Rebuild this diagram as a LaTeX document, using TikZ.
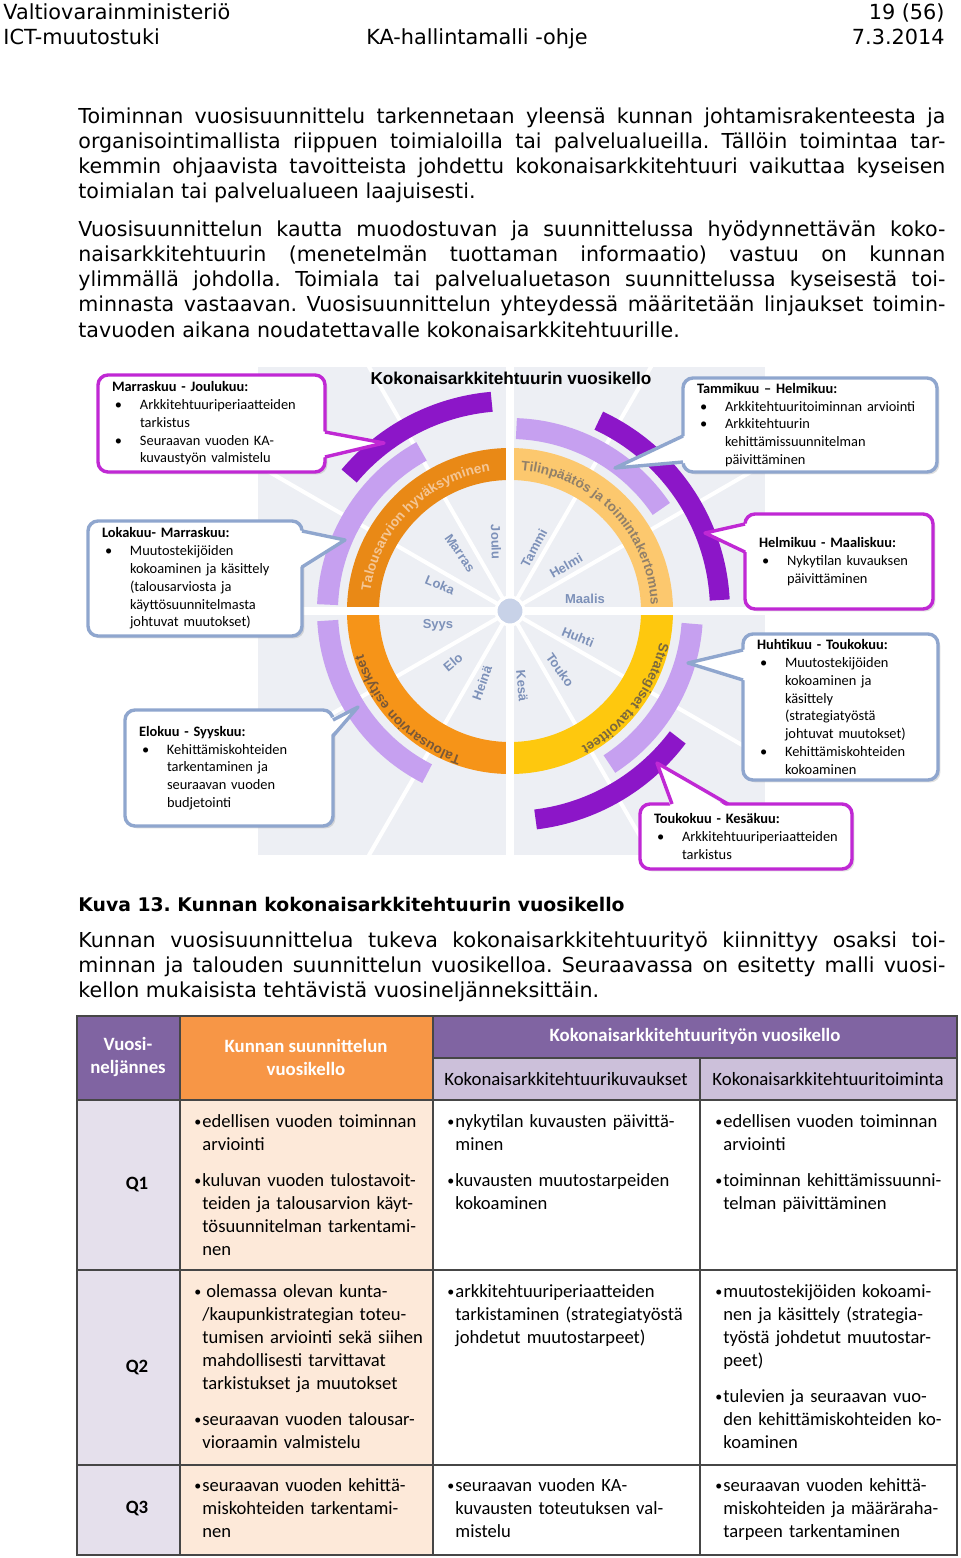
\documentclass[tikz,border=0pt]{standalone}
\usepackage{fontspec}
\setmainfont{DejaVu Sans}
\newfontfamily\calfont{Carlito}
\newfontfamily\arifont{Liberation Sans}
\usetikzlibrary{positioning,calc,decorations.text,shadows}
\tolerance=9999
\frenchspacing
\definecolor{VKmag}{RGB}{192,40,212}
\definecolor{VKblue}{RGB}{143,166,206}
\definecolor{VKlav}{RGB}{198,160,240}
\definecolor{VKpurp}{RGB}{140,22,200}
\definecolor{VKorTL}{RGB}{233,137,22}
\definecolor{VKorBL}{RGB}{246,148,24}
\definecolor{VKorBR}{RGB}{254,200,14}
\definecolor{VKorTR}{RGB}{252,200,110}
\definecolor{VKtxtTL}{RGB}{244,198,150}
\definecolor{VKtxtTR}{RGB}{145,128,105}
\definecolor{VKtxtBL}{RGB}{122,88,55}
\definecolor{VKtxtBR}{RGB}{122,104,62}
\definecolor{VKpanel}{RGB}{237,239,244}
\definecolor{VKmonth}{RGB}{125,145,185}
\definecolor{VKhub}{RGB}{200,210,232}
\definecolor{TBpurp}{RGB}{128,100,162}
\definecolor{TBorange}{RGB}{247,150,70}
\definecolor{TBlav}{RGB}{204,192,218}
\definecolor{TBq}{RGB}{229,224,236}
\definecolor{TBpeach}{RGB}{253,233,217}
\definecolor{TBline}{RGB}{70,70,70}
\newcommand{\ringfont}{\arifont\bfseries\fontsize{6.8}{8}\selectfont}
\newcommand{\cb}{\hspace*{1.5pt}\makebox[12.5pt][l]{\textbullet}}
\newcommand{\ci}{\hspace*{14pt}}
\newcommand{\tb}{\makebox[4pt][l]{\raisebox{0.2pt}{\fontsize{7}{7}\selectfont\textbullet}}}
\newcommand{\ti}{\hspace*{4pt}}
\tikzstyle{hdr}     = [inner sep=0pt, font=\fontsize{10.4}{12}\selectfont]
\tikzstyle{para}    = [anchor=base west, inner sep=0pt, text width=433.5pt,
                       align=justify, font=\fontsize{10.3}{12.65}\selectfont]
\tikzstyle{callbox} = [rectangle, rounded corners=5pt, line width=1.7pt, fill=white,
                       anchor=north west, outer sep=0pt, inner xsep=7pt, inner ysep=0pt,
                       align=left, font=\calfont\fontsize{7.2}{8.9}\selectfont,
                       drop shadow={opacity=0.25, shadow xshift=1.2pt, shadow yshift=-1.2pt}]
\tikzstyle{Cmag}    = [callbox, draw=VKmag]
\tikzstyle{Cblue}   = [callbox, draw=VKblue]
\tikzstyle{ptrline} = [line width=1.7pt, line join=round]
\tikzstyle{month}   = [inner sep=0pt, text=VKmonth, font=\arifont\bfseries\fontsize{6.5}{7}\selectfont]
\tikzstyle{tcell}   = [anchor=base west, inner sep=0pt, text width=124pt, align=left,
                       font=\calfont\fontsize{9.3}{11.5}\selectfont]
\tikzstyle{thead}   = [inner sep=0pt, align=center, text=white,
                       font=\calfont\bfseries\fontsize{9.4}{11.5}\selectfont]
\tikzstyle{tsub}    = [inner sep=0pt, font=\calfont\fontsize{9.4}{11.5}\selectfont]

\begin{document}
\begin{tikzpicture}[x=0.5pt, y=0.5pt]
  \useasboundingbox (0,0) rectangle (960,-1558);
  \fill[white] (0,0) rectangle (960,-1558);

  % page header
  \node[hdr, anchor=base west] (ministry) at (3,-19)   {Valtiovarainministeriö};
  \node[hdr, anchor=base west] (unit)     at (3,-44)   {ICT-muutostuki};
  \node[hdr, anchor=base west] (doc)      at (366,-44) {KA-hallintamalli -ohje};
  \node[hdr, anchor=base east] (page)     at (945,-19) {19 (56)};
  \node[hdr, anchor=base east] (date)     at (945,-44) {7.3.2014};

  % text before the figure
  \node[para] (p1) at (78,-123) {Toiminnan vuosisuunnittelu tarkennetaan yleensä kunnan johtamisrakenteesta ja\linebreak
    organisointimallista riippuen toimialoilla tai palvelualueilla. Tällöin toimintaa tar-\linebreak
    kemmin ohjaavista tavoitteista johdettu kokonaisarkkitehtuuri vaikuttaa kyseisen\linebreak
    toimialan tai palvelualueen laajuisesti.};
  \node[para] (p2) at (78,-236) {Vuosisuunnittelun kautta muodostuvan ja suunnittelussa hyödynnettävän koko-\linebreak
    naisarkkitehtuurin (menetelmän tuottaman informaatio) vastuu on kunnan\linebreak
    ylimmällä johdolla. Toimiala tai palvelualuetason suunnittelussa kyseisestä toi-\linebreak
    minnasta vastaavan. Vuosisuunnittelun yhteydessä määritetään linjaukset toimin-\linebreak
    tavuoden aikana noudatettavalle kokonaisarkkitehtuurille.};

  % clock panel and spokes
  \coordinate (c) at (510,-611);
  \fill[VKpanel] (258,-367) rectangle (765,-855);
  \begin{scope}
    \clip (258,-367) rectangle (765,-855);
    \foreach \a in {30,60,120,150,210,240,300,330}
      \draw[white, line width=2pt] (c) -- ++(\a:420);
    \foreach \s/\e/\col in {90/180/VKorTL, 180/270/VKorBL, 270/360/VKorBR, 0/90/VKorTR}
      \draw[\col, line width=16pt] ($(c)+(\s:147)$) arc[start angle=\s, end angle=\e, radius=147];
    \draw[white, line width=4pt] (258,-611) -- (765,-611);
    \draw[white, line width=4pt] (510,-367) -- (510,-855);
  \end{scope}

  % outer arcs
  \foreach \s/\e in {119/178, 183/243, 34/88, -57/-4}
    \draw[VKlav, line width=10.5pt] ($(c)+(\s:182.5)$) arc[start angle=\s, end angle=\e, radius=182.5];
  \foreach \s/\e in {95/140, 3/65, -83/-37}
    \draw[VKpurp, line width=10pt] ($(c)+(\s:210)$) arc[start angle=\s, end angle=\e, radius=210];

  % ring texts
  \path[decorate, decoration={text along path, text align=center,
      text={|\ringfont\color{VKtxtTL}|Talousarvion hyväksyminen}}]
    ($(c)+(176:141)$) arc[start angle=176, end angle=94, radius=141];
  \path[decorate, decoration={text along path, text align=center,
      text={|\ringfont\color{VKtxtTR}|Tilinpäätös ja toimintakertomus}}]
    ($(c)+(87:141)$) arc[start angle=87, end angle=1, radius=141];
  \path[decorate, decoration={text along path, text align=center,
      text={|\ringfont\color{VKtxtBL}|Talousarvion esitykset}}]
    ($(c)+(-92:153)$) arc[start angle=-92, end angle=-180, radius=153];
  \path[decorate, decoration={text along path, text align=center,
      text={|\ringfont\color{VKtxtBR}|Strategiset tavoitteet}}]
    ($(c)+(-1:153)$) arc[start angle=-1, end angle=-73, radius=153];

  % months
  \node[month, rotate=62]  (tammi)  at (534,-548) {Tammi};
  \node[month, rotate=30]  (helmi)  at (566,-566) {Helmi};
  \node[month]             (maalis) at (585,-599) {Maalis};
  \node[month, rotate=-22] (huhti)  at (578,-637) {Huhti};
  \node[month, rotate=-55] (touko)  at (560,-670) {Touko};
  \node[month, rotate=-85] (kesa)   at (522,-686) {Kesä};
  \node[month, rotate=70]  (heina)  at (482,-683) {Heinä};
  \node[month, rotate=40]  (elo)    at (453,-662) {Elo};
  \node[month]             (syys)   at (438,-625) {Syys};
  \node[month, rotate=-22] (loka)   at (440,-585) {Loka};
  \node[month, rotate=-55] (marras) at (460,-553) {Marras};
  \node[month, rotate=-88] (joulu)  at (496,-542) {Joulu};
  \filldraw[fill=VKhub, draw=white, line width=1.5pt] (c) circle[radius=14];

  \node[inner sep=0pt, font=\arifont\bfseries\fontsize{8.6}{10}\selectfont] (title) at (511,-378)
    {Kokonaisarkkitehtuurin vuosikello};

  % callouts
  \coordinate (mjtip) at (384,-443);
  \coordinate (lmtip) at (345,-540);
  \coordinate (estip) at (358,-707);
  \coordinate (thtip) at (615,-468);
  \coordinate (hmtip) at (705,-533);
  \coordinate (httip) at (688,-663);
  \coordinate (tktip) at (657,-763);

  \node[Cmag, text width=99.5pt, minimum height=48.5pt] (mj) at (98,-375)
    {\textbf{Marraskuu - Joulukuu:}\\\cb Arkkitehtuuriperiaatteiden\\\ci tarkistus\\\cb Seuraavan vuoden KA-\\\ci kuvaustyön valmistelu};
  \fill[white] ($(mj.north east)+(-4,-56)$) -- (mjtip) -- ($(mj.north east)+(-4,-83)$) -- cycle;
  \draw[ptrline, VKmag] ($(mj.north east)+(0,-57)$) -- (mjtip) -- ($(mj.north east)+(0,-82)$);

  \node[Cblue, text width=93pt, minimum height=57.5pt] (lm) at (88,-521)
    {\textbf{Lokakuu- Marraskuu:}\\\cb Muutostekijöiden\\\ci kokoaminen ja käsittely\\\ci (talousarviosta ja\\\ci käyttösuunnitelmasta\\\ci johtuvat muutokset)};
  \fill[white] ($(lm.north east)+(-4,-9)$) -- (lmtip) -- ($(lm.north east)+(-4,-47)$) -- cycle;
  \draw[ptrline, VKblue] ($(lm.north east)+(0,-10)$) -- (lmtip) -- ($(lm.north east)+(0,-46)$);

  \node[Cblue, text width=90pt, minimum height=58pt] (es) at (125,-710)
    {\textbf{Elokuu - Syyskuu:}\\\cb Kehittämiskohteiden\\\ci tarkentaminen ja\\\ci seuraavan vuoden\\\ci budjetointi};
  \fill[white] ($(es.north east)+(-4,-9)$) -- (estip) -- ($(es.north east)+(-4,-27)$) -- cycle;
  \draw[ptrline, VKblue] ($(es.north east)+(0,-10)$) -- (estip) -- ($(es.north east)+(0,-26)$);

  \node[Cblue, text width=113pt, minimum height=47pt] (th) at (683,-378)
    {\textbf{Tammikuu – Helmikuu:}\\\cb Arkkitehtuuritoiminnan arviointi\\\cb Arkkitehtuurin\\\ci kehittämissuunnitelman\\\ci päivittäminen};
  \fill[white] ($(th.north west)+(4,-57)$) -- (thtip) -- ($(th.north west)+(4,-85)$) -- cycle;
  \draw[ptrline, VKblue] ($(th.north west)+(0,-58)$) -- (thtip) -- ($(th.north west)+(0,-84)$);

  \node[Cmag, text width=80pt, minimum height=47.5pt] (hm) at (745,-514)
    {\textbf{Helmikuu - Maaliskuu:}\\\cb Nykytilan kuvauksen\\\ci päivittäminen};
  \fill[white] ($(hm.north west)+(4,-9)$) -- (hmtip) -- ($(hm.north west)+(4,-39)$) -- cycle;
  \draw[ptrline, VKmag] ($(hm.north west)+(0,-10)$) -- (hmtip) -- ($(hm.north west)+(0,-38)$);

  \node[Cblue, text width=83.5pt, minimum height=73pt] (ht) at (743,-634)
    {\textbf{Huhtikuu - Toukokuu:}\\\cb Muutostekijöiden\\\ci kokoaminen ja\\\ci käsittely\\\ci (strategiatyöstä\\\ci johtuvat muutokset)\\\cb Kehittämiskohteiden\\\ci kokoaminen};
  \fill[white] ($(ht.north west)+(4,-15)$) -- (httip) -- ($(ht.north west)+(4,-47)$) -- cycle;
  \draw[ptrline, VKblue] ($(ht.north west)+(0,-16)$) -- (httip) -- ($(ht.north west)+(0,-46)$);

  \node[Cmag, text width=92pt, minimum height=32.5pt] (tk) at (640,-804)
    {\textbf{Toukokuu - Kesäkuu:}\\\cb Arkkitehtuuriperiaatteiden\\\ci tarkistus};
  \fill[white] ($(tk.north west)+(31,-4)$) -- (tktip) -- ($(tk.north west)+(89,-4)$) -- cycle;
  \draw[ptrline, VKmag] ($(tk.north west)+(32,0)$) -- (tktip) -- ($(tk.north west)+(88,0)$);

  % caption and text after the figure
  \node[inner sep=0pt, anchor=base west, font=\bfseries\fontsize{9.4}{11}\selectfont] (caption) at (78,-911)
    {Kuva 13. Kunnan kokonaisarkkitehtuurin vuosikello};
  \node[para] (p3) at (78,-947) {Kunnan vuosisuunnittelua tukeva kokonaisarkkitehtuurityö kiinnittyy osaksi toi-\linebreak
    minnan ja talouden suunnittelun vuosikelloa. Seuraavassa on esitetty malli vuosi-\linebreak
    kellon mukaisista tehtävistä vuosineljänneksittäin.};

  % table
  \fill[TBpurp]   (77,-1016)  rectangle (180,-1100);
  \fill[TBorange] (180,-1016) rectangle (433,-1100);
  \fill[TBpurp]   (433,-1016) rectangle (957,-1058);
  \fill[TBlav]    (433,-1058) rectangle (957,-1100);
  \fill[TBq]      (77,-1100)  rectangle (180,-1555);
  \fill[TBpeach]  (180,-1100) rectangle (433,-1555);
  \draw[TBline, line width=1pt] (77,-1016) rectangle (957,-1555);
  \draw[TBline, line width=1pt] (180,-1016) -- (180,-1555)
                                (433,-1016) -- (433,-1555)
                                (700,-1058) -- (700,-1555)
                                (433,-1058) -- (957,-1058)
                                (77,-1100)  -- (957,-1100)
                                (77,-1270)  -- (957,-1270)
                                (77,-1465)  -- (957,-1465);

  \node[thead] (hq)   at (128,-1057) {Vuosi-\\neljännes};
  \node[thead] (hkun) at (306,-1057) {Kunnan suunnittelun\\vuosikello};
  \node[thead] (hka)  at (695,-1036) {Kokonaisarkkitehtuurityön vuosikello};
  \node[tsub]  (hkuv) at (566,-1079) {Kokonaisarkkitehtuurikuvaukset};
  \node[tsub]  (htoi) at (828,-1079) {Kokonaisarkkitehtuuritoiminta};

  \node[thead, text=black] (q1) at (137,-1185) {Q1};
  \node[thead, text=black] (q2) at (137,-1367) {Q2};
  \node[thead, text=black] (q3) at (137,-1508) {Q3};

  \node[tcell] (q1kun) at (194,-1127) {\tb edellisen vuoden toiminnan\\\ti arviointi\\[6.5pt]
    \tb kuluvan vuoden tulostavoit-\\\ti teiden ja talousarvion käyt-\\\ti tösuunnitelman tarkentami-\\\ti nen};
  \node[tcell] (q1kuv) at (447,-1127) {\tb nykytilan kuvausten päivittä-\\\ti minen\\[6.5pt]
    \tb kuvausten muutostarpeiden\\\ti kokoaminen};
  \node[tcell] (q1toi) at (715,-1127) {\tb edellisen vuoden toiminnan\\\ti arviointi\\[6.5pt]
    \tb toiminnan kehittämissuunni-\\\ti telman päivittäminen};

  \node[tcell] (q2kun) at (194,-1297) {\tb\hspace{2pt}olemassa olevan kunta-\\\ti/kaupunkistrategian toteu-\\\ti tumisen arviointi sekä siihen\\\ti mahdollisesti tarvittavat\\\ti tarkistukset ja muutokset\\[6.5pt]
    \tb seuraavan vuoden talousar-\\\ti vioraamin valmistelu};
  \node[tcell] (q2kuv) at (447,-1297) {\tb arkkitehtuuriperiaatteiden\\\ti tarkistaminen (strategiatyöstä\\\ti johdetut muutostarpeet)};
  \node[tcell] (q2toi) at (715,-1297) {\tb muutostekijöiden kokoami-\\\ti nen ja käsittely (strategia-\\\ti työstä johdetut muutostar-\\\ti peet)\\[6.5pt]
    \tb tulevien ja seuraavan vuo-\\\ti den kehittämiskohteiden ko-\\\ti koaminen};

  \node[tcell] (q3kun) at (194,-1491) {\tb seuraavan vuoden kehittä-\\\ti miskohteiden tarkentami-\\\ti nen};
  \node[tcell] (q3kuv) at (447,-1491) {\tb seuraavan vuoden KA-\\\ti kuvausten toteutuksen val-\\\ti mistelu};
  \node[tcell] (q3toi) at (715,-1491) {\tb seuraavan vuoden kehittä-\\\ti miskohteiden ja määräraha-\\\ti tarpeen tarkentaminen};
\end{tikzpicture}
\end{document}
